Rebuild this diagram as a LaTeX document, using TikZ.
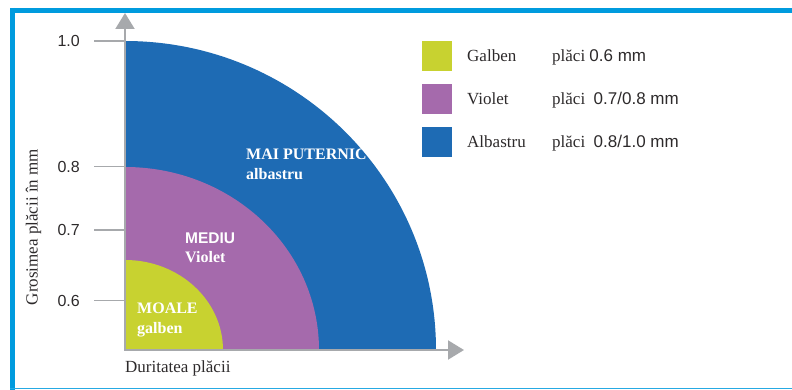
\documentclass[tikz,border=0pt]{standalone}
\usepackage{fontspec}
\setmainfont{Liberation Serif}
\setsansfont{Liberation Sans}
\usetikzlibrary{arrows.meta}
\definecolor{framecol}{RGB}{0,155,222}
\definecolor{bandblue}{RGB}{30,107,180}
\definecolor{bandviolet}{RGB}{165,106,172}
\definecolor{bandyellow}{RGB}{200,210,48}
\definecolor{axisgrey}{RGB}{167,169,172}
\definecolor{textgrey}{RGB}{45,42,43}

\begin{document}
\begin{tikzpicture}[x=1pt, y=1pt,
    axis/.style={draw=axisgrey, line width=2pt},
    tickline/.style={draw=axisgrey, line width=1.4pt},
    ticklab/.style={anchor=east, inner sep=0pt, text=textgrey, font=\sffamily\fontsize{16}{18}\selectfont},
    bandlab/.style={anchor=base west, inner sep=0pt, text=white, font=\fontsize{16}{18}\selectfont\bfseries},
    swatch/.style={anchor=south west, minimum size=30pt, inner sep=0pt},
    legtext/.style={anchor=base west, inner sep=0pt, text=textgrey, font=\fontsize{17}{20}\selectfont}]
  \useasboundingbox (0,0) rectangle (792,390);
  % frame
  \draw[framecol, line width=4.7pt] (792,379.7) -- (10,379.7);
  \draw[framecol, line width=5pt] (12.5,382) -- (12.5,0);
  \draw[framecol!85, line width=1.2pt] (10,1.2) -- (792,1.2);

  \coordinate (O) at (125,40);
  \coordinate (ytip) at (125,377);
  \coordinate (xtip) at (464,40);

  % quarter bands
  \fill[bandblue] (O) -- ++(311,0) arc[start angle=0, end angle=90, x radius=311, y radius=309] -- cycle;
  \fill[bandviolet] (O) -- ++(194,0) arc[start angle=0, end angle=90, x radius=194, y radius=183] -- cycle;
  \fill[bandyellow] (O) -- ++(98,0) arc[start angle=0, end angle=90, x radius=98, y radius=90] -- cycle;

  % axes
  \draw[axis, -{Triangle[length=16pt, width=19pt]}] (O) -- (ytip);
  \draw[axis, -{Triangle[length=16pt, width=19pt]}] ([xshift=-1pt]O) -- (xtip);
  \foreach \v/\y [count=\i] in {1.0/349, 0.8/223.5, 0.7/160, 0.6/89.3}{
    \coordinate (tk\i) at (125,\y);
    \draw[tickline] (tk\i) -- ++(-31,0) coordinate (tkend\i);
    \node[ticklab] (tklab\i) at ([xshift=-14pt]tkend\i) {\v};
  }

  % band labels
  \node[bandlab] (strongtop) at (246,230.7) {MAI PUTERNIC};
  \node[bandlab] (strongbot) at (246,210) {albastru};
  \node[bandlab, font=\sffamily\fontsize{15.5}{18}\selectfont\bfseries] (midtop) at (185,146.7) {MEDIU};
  \node[bandlab] (midbot) at (185,127.3) {Violet};
  \node[bandlab] (softtop) at (137,76.7) {MOALE};
  \node[bandlab] (softbot) at (137,56) {galben};

  % axis titles
  \node[legtext] (xtitle) at (125,17) {Duritatea plăcii};
  \node[legtext, anchor=base, rotate=90] (ytitle) at (37.7,163) {Grosimea plăcii în mm};

  % legend
  \node[swatch, fill=bandyellow] (swyellow) at (422,319) {};
  \node[swatch, fill=bandviolet] (swviolet) at (422,276) {};
  \node[swatch, fill=bandblue] (swblue) at (422,233) {};
  \node[legtext] (lgyellow) at (467,328.3) {Galben};
  \node[legtext] (lgviolet) at (467,285.3) {Violet};
  \node[legtext] (lgblue) at (467,242.5) {Albastru};
  \node[legtext] (lgyellowmm) at (552,328.3) {plăci \textsf{0.6 mm}};
  \node[legtext] (lgvioletmm) at (552,285.3) {plăci\ \ \textsf{0.7/0.8 mm}};
  \node[legtext] (lgbluemm) at (552,242.5) {plăci\ \ \textsf{0.8/1.0 mm}};
\end{tikzpicture}
\end{document}
